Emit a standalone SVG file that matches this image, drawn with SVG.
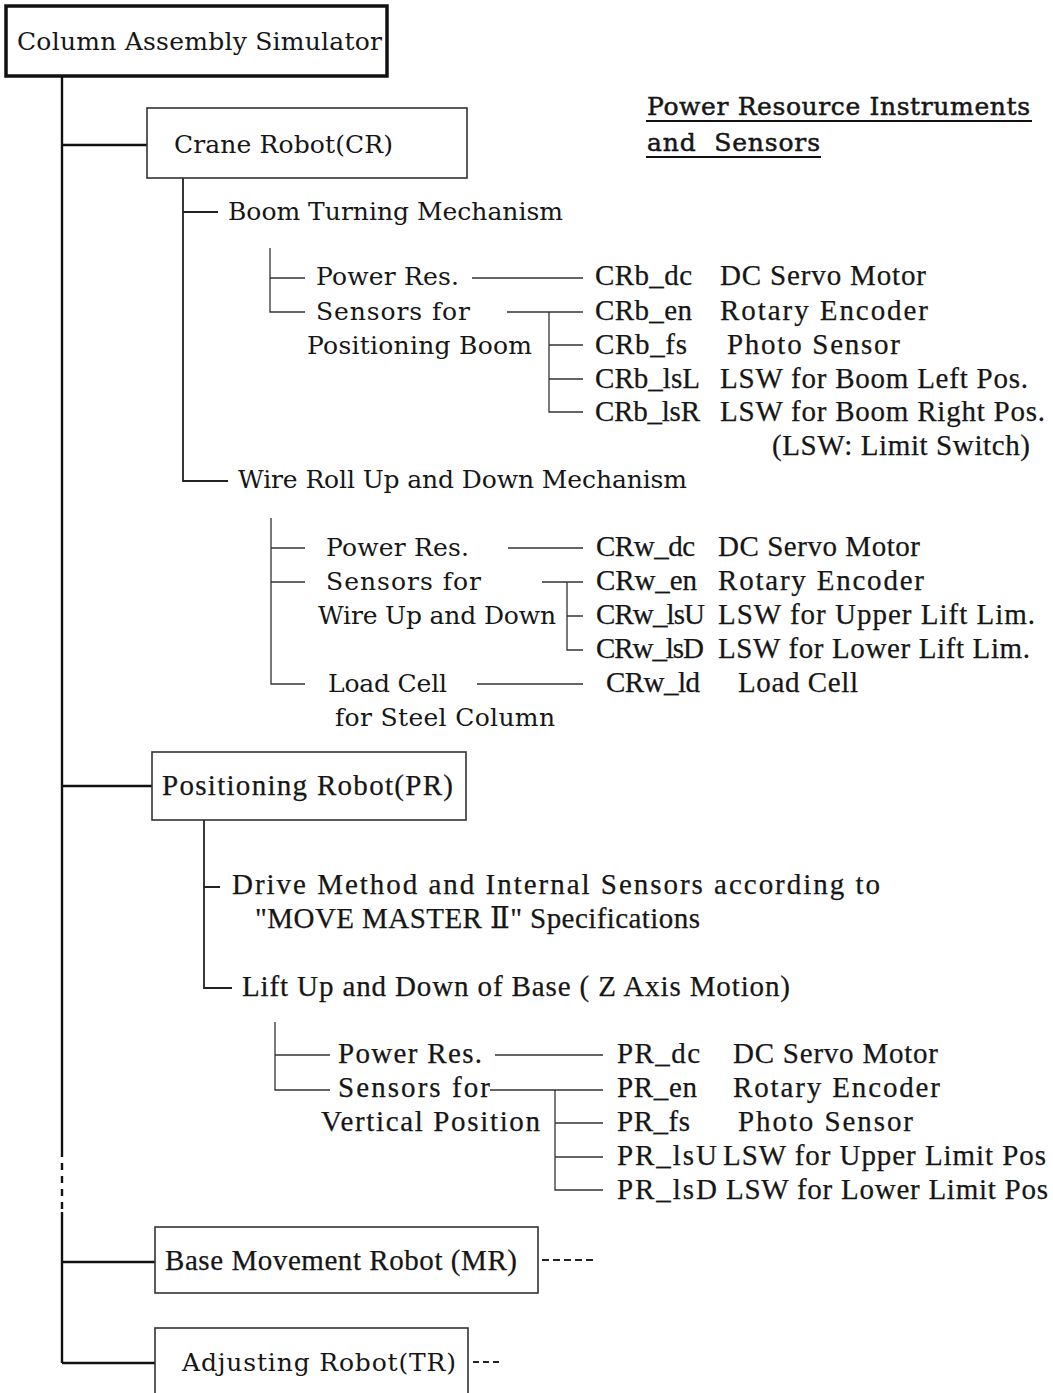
<svg xmlns="http://www.w3.org/2000/svg" width="1053" height="1393" viewBox="0 0 1053 1393">
<style>
.w{font-family:"DejaVu Serif","Liberation Serif",serif;font-size:25px;fill:#161616}
.c{font-family:"Liberation Serif","DejaVu Serif",serif;font-size:29px;fill:#161616;stroke:#161616;stroke-width:0.25}
.lg{stroke:#161616;stroke-width:0.5}
.box{fill:none;stroke:#333;stroke-width:1.6}
.main{fill:none;stroke:#111;stroke-width:3.5}
.l1{fill:none;stroke:#111;stroke-width:2.4}
.l2{fill:none;stroke:#222;stroke-width:1.8}
.l3{fill:none;stroke:#333;stroke-width:1.3}
.ul{stroke:#111;stroke-width:1.8}
</style>
<rect width="1053" height="1393" fill="#fff"/>
<g id="connectors">
<path class="l1" d="M62 77V1150M62 1212V1363M62 145H147M62 786H152M62 1262H155M62 1363H155"/>
<path class="l1" d="M62 1150V1212" stroke-dasharray="7 6"/>
<path class="l2" d="M183 178V481H228M183 212H218"/>
<path class="l3" d="M270 248V312H305M270 278H305"/>
<path class="l3" d="M472 278H583M507 312H583M549 312V412H583M549 345H583M549 379H583"/>
<path class="l3" d="M271 518V684H305M271 548H305M271 582H305"/>
<path class="l3" d="M508 548H583M542 582H583M567 582V650H583M567 616H583M477 684H583"/>
<path class="l2" d="M204 820V988H232M204 887H220"/>
<path class="l3" d="M275 1022V1090H330M275 1055H330"/>
<path class="l3" d="M495 1055H603M490 1090H603M555 1090V1190H603M555 1123H603M555 1157H603"/>
<path class="l2" d="M542 1260H594" stroke-dasharray="7 4"/>
<path class="l2" d="M473 1362H502" stroke-dasharray="6 4"/>
</g>
<g id="root">
<rect class="main" x="6" y="6" width="381" height="70"/>
<text class="w" x="17" y="50" textLength="365">Column Assembly Simulator</text>
</g>
<g id="legend">
<text class="w lg" x="647" y="115" textLength="383">Power Resource Instruments</text>
<line class="ul" x1="646" y1="121" x2="1032" y2="121"/>
<text class="w lg" x="647" y="151" textLength="173" xml:space="preserve">and  Sensors</text>
<line class="ul" x1="646" y1="157" x2="821" y2="157"/>
</g>
<g id="cr">
<rect class="box" x="147" y="108" width="320" height="70"/>
<text class="w" x="174" y="153" textLength="219">Crane Robot(CR)</text>
</g>
<g id="boom">
<text class="w" x="228" y="220" textLength="335">Boom Turning Mechanism</text>
<text class="w" x="316" y="285" textLength="143">Power Res.</text>
<text class="w" x="316" y="320" textLength="154">Sensors for</text>
<text class="w" x="307" y="354" textLength="225">Positioning Boom</text>
</g>
<g id="boom-items">
<text class="c" x="595" y="285" textLength="97">CRb_dc</text><text class="c" x="720" y="285" textLength="206">DC Servo Motor</text>
<text class="c" x="595" y="320" textLength="97">CRb_en</text><text class="c" x="720" y="320" textLength="208">Rotary Encoder</text>
<text class="c" x="595" y="354" textLength="92">CRb_fs</text><text class="c" x="727" y="354" textLength="173">Photo Sensor</text>
<text class="c" x="595" y="388" textLength="105">CRb_lsL</text><text class="c" x="720" y="388" textLength="308">LSW for Boom Left Pos.</text>
<text class="c" x="595" y="421" textLength="105">CRb_lsR</text><text class="c" x="720" y="421" textLength="325">LSW for Boom Right Pos.</text>
<text class="c" x="772" y="455" textLength="258">(LSW: Limit Switch)</text>
</g>
<g id="wire">
<text class="w" x="238" y="488" textLength="449">Wire Roll Up and Down Mechanism</text>
<text class="w" x="326" y="556" textLength="143">Power Res.</text>
<text class="w" x="326" y="590" textLength="155">Sensors for</text>
<text class="w" x="318" y="624" textLength="238">Wire Up and Down</text>
<text class="w" x="328" y="692" textLength="119">Load Cell</text>
<text class="w" x="335" y="726" textLength="220">for Steel Column</text>
</g>
<g id="wire-items">
<text class="c" x="596" y="556" textLength="99">CRw_dc</text><text class="c" x="718" y="556" textLength="202">DC Servo Motor</text>
<text class="c" x="596" y="590" textLength="101">CRw_en</text><text class="c" x="718" y="590" textLength="206">Rotary Encoder</text>
<text class="c" x="596" y="624" textLength="109">CRw_lsU</text><text class="c" x="718" y="624" textLength="317">LSW for Upper Lift Lim.</text>
<text class="c" x="596" y="658" textLength="108">CRw_lsD</text><text class="c" x="718" y="658" textLength="312">LSW for Lower Lift Lim.</text>
<text class="c" x="606" y="692" textLength="94">CRw_ld</text><text class="c" x="738" y="692" textLength="120">Load Cell</text>
</g>
<g id="pr">
<rect class="box" x="152" y="752" width="314" height="68"/>
<text class="c" x="162" y="795" textLength="291">Positioning Robot(PR)</text>
</g>
<g id="pr-drive">
<text class="c" x="232" y="894" textLength="648">Drive Method and Internal Sensors according to</text>
<text class="c" x="255" y="928" textLength="445">"MOVE MASTER Ⅱ" Specifications</text>
</g>
<g id="pr-lift">
<text class="c" x="242" y="996" textLength="548">Lift Up and Down of Base ( Z Axis Motion)</text>
<text class="c" x="338" y="1063" textLength="144">Power Res.</text>
<text class="c" x="338" y="1097" textLength="152">Sensors for</text>
<text class="c" x="321" y="1131" textLength="219">Vertical Position</text>
</g>
<g id="pr-items">
<text class="c" x="617" y="1063" textLength="83">PR_dc</text><text class="c" x="733" y="1063" textLength="205">DC Servo Motor</text>
<text class="c" x="617" y="1097" textLength="80">PR_en</text><text class="c" x="733" y="1097" textLength="207">Rotary Encoder</text>
<text class="c" x="617" y="1131" textLength="73">PR_fs</text><text class="c" x="738" y="1131" textLength="175">Photo Sensor</text>
<text class="c" x="617" y="1165" textLength="100">PR_lsU</text><text class="c" x="723" y="1165" textLength="323">LSW for Upper Limit Pos</text>
<text class="c" x="617" y="1199" textLength="100">PR_lsD</text><text class="c" x="726" y="1199" textLength="322">LSW for Lower Limit Pos</text>
</g>
<g id="mr">
<rect class="box" x="155" y="1227" width="383" height="66"/>
<text class="c" x="165" y="1270" textLength="352">Base Movement Robot (MR)</text>
</g>
<g id="tr">
<rect class="box" x="155" y="1328" width="313" height="80"/>
<text class="w" x="182" y="1371" textLength="274">Adjusting Robot(TR)</text>
</g>
</svg>
